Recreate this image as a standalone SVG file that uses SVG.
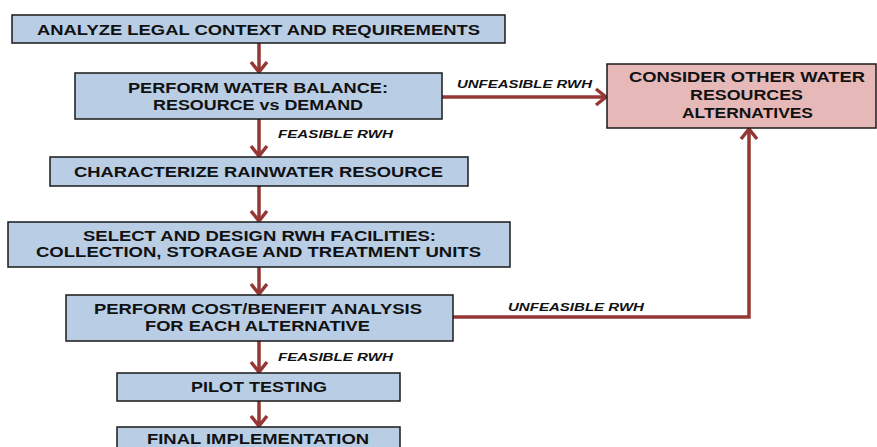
<svg xmlns="http://www.w3.org/2000/svg" width="877" height="447" viewBox="0 0 877 447">
<defs>
<style>
.box{fill:#b9cde5;stroke:#1a1a1a;stroke-width:1.5}
.alt{fill:#e6b9b8;stroke:#1a1a1a;stroke-width:1.5}
.t{font-family:"Liberation Sans",Arial,sans-serif;font-weight:bold;font-size:14px;fill:#111;text-anchor:middle}
.lbl{font-family:"Liberation Sans",Arial,sans-serif;font-weight:bold;font-style:italic;font-size:11.5px;fill:#111}
.c{fill:none;stroke:#953735;stroke-width:3.5}
</style>
<marker id="ah" viewBox="0 0 20 20" refX="17" refY="10" markerWidth="20" markerHeight="20" markerUnits="userSpaceOnUse" orient="auto">
<path d="M7,2 L17,10 L7,18" fill="none" stroke="#953735" stroke-width="3.5"/>
</marker>
</defs>
<rect width="877" height="447" fill="#fff"/>
<g id="connectors">
<line class="c" x1="259" y1="43" x2="259" y2="72" marker-end="url(#ah)"/>
<line class="c" x1="259" y1="119" x2="259" y2="156" marker-end="url(#ah)"/>
<line class="c" x1="259" y1="186" x2="259" y2="221" marker-end="url(#ah)"/>
<line class="c" x1="259" y1="267" x2="259" y2="294" marker-end="url(#ah)"/>
<line class="c" x1="259" y1="341" x2="259" y2="372" marker-end="url(#ah)"/>
<line class="c" x1="259" y1="401" x2="259" y2="426" marker-end="url(#ah)"/>
<line class="c" x1="442" y1="97" x2="606" y2="97" marker-end="url(#ah)"/>
<polyline class="c" points="453,317 749,317 749,129" marker-end="url(#ah)"/>
<text class="lbl" x="457" y="88" textLength="135" lengthAdjust="spacingAndGlyphs">UNFEASIBLE RWH</text>
<text class="lbl" x="278" y="138" textLength="115" lengthAdjust="spacingAndGlyphs">FEASIBLE RWH</text>
<text class="lbl" x="508" y="311" textLength="136" lengthAdjust="spacingAndGlyphs">UNFEASIBLE RWH</text>
<text class="lbl" x="278" y="361" textLength="115" lengthAdjust="spacingAndGlyphs">FEASIBLE RWH</text>
</g>
<g id="n1">
<rect class="box" x="12" y="15" width="493" height="28"/>
<text class="t" x="258.5" y="35" textLength="443" lengthAdjust="spacingAndGlyphs">ANALYZE LEGAL CONTEXT AND REQUIREMENTS</text>
</g>
<g id="n2">
<rect class="box" x="75" y="73" width="367" height="46"/>
<text class="t" x="258" y="93" textLength="260" lengthAdjust="spacingAndGlyphs">PERFORM WATER BALANCE:</text>
<text class="t" x="258" y="110" textLength="210" lengthAdjust="spacingAndGlyphs">RESOURCE vs DEMAND</text>
</g>
<g id="n3">
<rect class="box" x="50" y="157" width="418" height="29"/>
<text class="t" x="258.5" y="177" textLength="369" lengthAdjust="spacingAndGlyphs">CHARACTERIZE RAINWATER RESOURCE</text>
</g>
<g id="n4">
<rect class="box" x="8" y="222" width="502" height="45"/>
<text class="t" x="259.5" y="241" textLength="353" lengthAdjust="spacingAndGlyphs">SELECT AND DESIGN RWH FACILITIES:</text>
<text class="t" x="258.5" y="257" textLength="445" lengthAdjust="spacingAndGlyphs">COLLECTION, STORAGE AND TREATMENT UNITS</text>
</g>
<g id="n5">
<rect class="box" x="66" y="295" width="387" height="46"/>
<text class="t" x="258" y="314" textLength="328" lengthAdjust="spacingAndGlyphs">PERFORM COST/BENEFIT ANALYSIS</text>
<text class="t" x="257.5" y="331" textLength="225" lengthAdjust="spacingAndGlyphs">FOR EACH ALTERNATIVE</text>
</g>
<g id="n6">
<rect class="box" x="117" y="373" width="283" height="28"/>
<text class="t" x="259" y="392" textLength="136" lengthAdjust="spacingAndGlyphs">PILOT TESTING</text>
</g>
<g id="n7">
<rect class="box" x="117" y="427" width="283" height="28"/>
<text class="t" x="258" y="444" textLength="222" lengthAdjust="spacingAndGlyphs">FINAL IMPLEMENTATION</text>
</g>
<g id="n8">
<rect class="alt" x="607" y="64" width="269" height="64"/>
<text class="t" x="747" y="82" textLength="236" lengthAdjust="spacingAndGlyphs">CONSIDER OTHER WATER</text>
<text class="t" x="746.5" y="100" textLength="113" lengthAdjust="spacingAndGlyphs">RESOURCES</text>
<text class="t" x="747.5" y="118" textLength="131" lengthAdjust="spacingAndGlyphs">ALTERNATIVES</text>
</g>
</svg>
